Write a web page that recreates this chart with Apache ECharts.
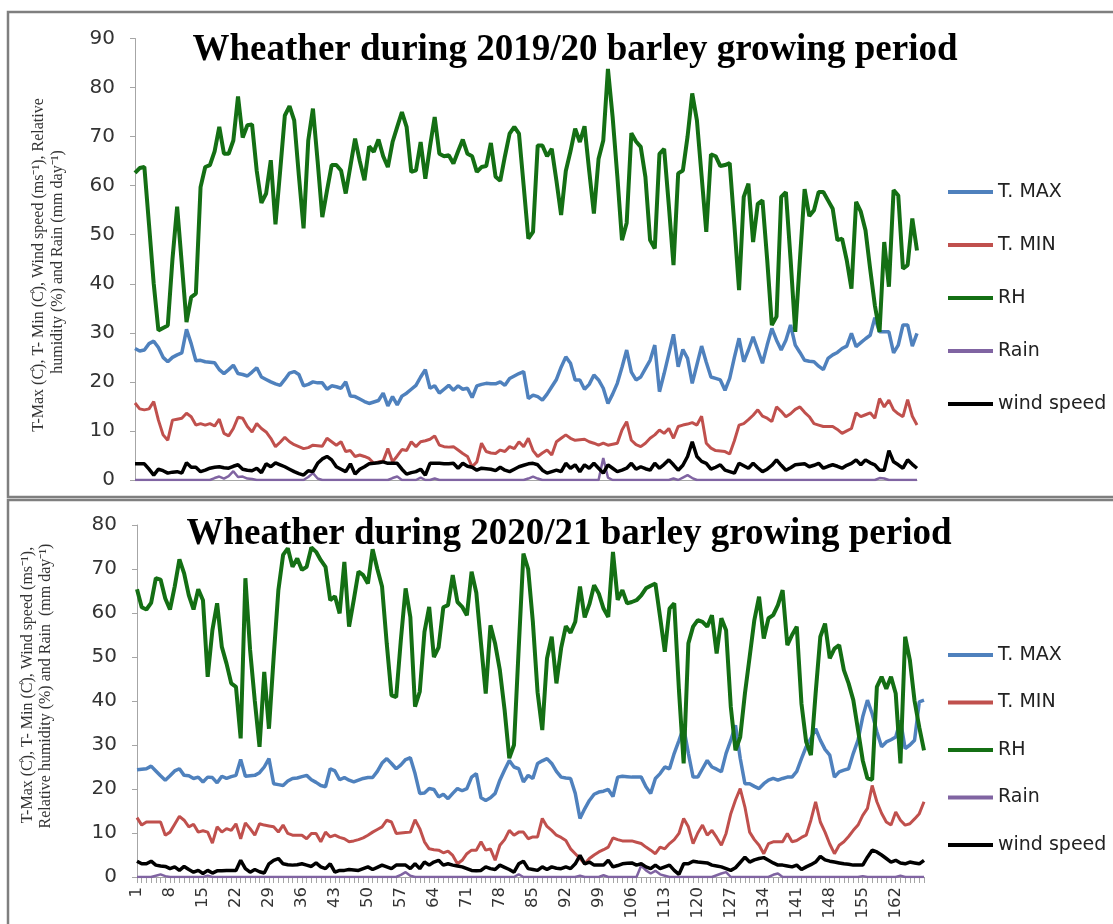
<!DOCTYPE html>
<html><head><meta charset="utf-8">
<script src="https://cdn.jsdelivr.net/npm/echarts@6/dist/echarts.min.js"></script>
<style>html,body{margin:0;padding:0;background:#fff}#c{width:1113px;height:924px}</style>
</head><body><div id="c"></div>
<script>
// ---- data ----
const days = [];
for (let i = 1; i <= 168; i++) days.push(String(i));
const seriesNames = ['T. MAX', 'T. MIN', 'RH', 'Rain', 'wind speed'];
const titleTop = 'Wheather during 2019/20 barley growing period';
const titleBottom = 'Wheather during 2020/21 barley growing period';
const yTicksTop = {min: 0, max: 90, step: 10};
const yTicksBottom = {min: 0, max: 80, step: 10};

// 2019/20
const tMax = [26.8,26.3,26.5,27.8,28.3,27,25,24.1,25,25.5,
25.9,30.7,27.8,24.3,24.4,24.1,24,23.9,22.5,21.7,
22.5,23.4,21.7,21.5,21.2,22,22.9,21,20.5,20,
19.6,19.3,20.5,21.8,22.1,21.5,19.2,19.5,20,19.8,
19.8,18.5,19.2,19,18.7,20,17.1,17,16.5,16,
15.6,15.9,16.2,17.7,15.1,17,15.3,17.1,17.7,18.5,
19.3,21,22.5,18.7,19.2,17.7,18.5,19.3,18.3,19.2,
18.5,18.7,16.8,19.2,19.5,19.7,19.6,19.6,20,19.3,
20.7,21.2,21.7,22.1,16.6,17.3,17,16.3,17.5,19,
20.5,23,25.1,23.8,20.4,20.4,18.5,19.5,21.4,20.4,
18.7,15.6,17.5,19.7,23,26.5,22,20.4,21,22.7,
24.4,27.5,18,21.7,25.7,29.7,23.1,26.6,24.8,19.7,
23.5,27.3,24,21,20.7,20.4,18.3,20.7,25,28.9,
24.1,26.5,29.2,26.5,23.8,27.5,30.9,28.5,26.5,28.5,
31.6,27.5,26,24.4,24.2,24.1,23.2,22.5,24.8,25.5,
26,26.8,27.3,29.9,27.2,28,28.8,29.5,33.1,30.2,
30.2,30.2,25.9,27.5,31.6,31.6,27.3,29.9];
const tMin = [15.7,14.5,14.3,14.5,16,12.2,9.2,8.1,12.2,12.4,
12.6,13.6,12.9,11.2,11.5,11.2,11.5,11,12.4,9.5,
9,10.5,12.8,12.6,10.9,9.8,11.5,10.5,9.8,8.5,
6.8,7.7,8.7,7.8,7.2,6.8,6.4,6.6,7.1,7,
6.9,8.5,7.8,7.1,7.8,5.8,6,4.8,5.1,4.8,
4.4,3.4,3.7,3.9,6.4,3.7,4.9,6.2,6,7.8,
6.8,7.8,8,8.3,9,7.1,6.8,6.7,6.8,6.1,
5.4,4.8,2.7,3.7,7.5,5.8,5.5,5.4,6.1,5.8,
6.8,6.4,7.8,6.8,8.5,6,4.8,5.5,6.1,5.1,
7.8,8.5,9.2,8.5,8.1,8.2,8.3,7.8,7.5,7.1,
7.5,7.1,7.3,7.5,10.2,11.9,8.1,7.2,6.8,7.5,
8.5,9.2,10.2,9.5,10.5,8.5,10.9,11.2,11.4,11.7,
11.2,13,7.5,6.5,6,5.9,5.8,5.3,8,11.2,
11.5,12.3,13.2,14.3,13,12.6,11.9,14.9,14,12.9,
13.5,14.4,14.9,13.8,12.9,11.5,11.2,10.9,10.9,10.9,
10.3,9.5,10,10.5,13.7,12.9,13.3,13.7,12.6,16.6,
14.9,16.3,14.3,13.5,12.9,16.4,13,11.2];
const tRH = [62.6,63.6,63.8,52,40,30.5,31,31.5,45,55.7,
44,32.2,37.3,38,59.7,63.8,64.2,67,72,66.5,
66.5,69.2,78.2,69.8,72.3,72.5,63,56.5,58.4,65.2,
52.1,63,74.3,76.2,73.3,62,51.3,69.2,75.7,65,
53.6,59,64.2,64.2,63.1,58.4,64,69.6,65,61.1,
68,66.9,69.4,66,63.8,68.9,72,75,72,62.8,
63.1,68.9,61.4,68,74,66.5,66,66.2,64.5,67,
69.4,66.5,66,62.8,63.8,64,68.7,61.8,61,66,
70.6,72,70.6,60,49.2,50.6,68.2,68.2,66,67.5,
61,54,63,67,71.6,68.9,72.1,63,54.3,65.5,
69.2,83.8,74,62,48.9,52.4,70.7,69,67.9,61.8,
48.9,47.2,66.5,67.5,56,43.8,62.5,63.1,70,78.8,
73.3,62,50.6,66.4,66,64,64.2,64.6,52,38.7,
57.7,60.4,48.5,56.3,57,45,31.6,33.3,57.7,58.7,
45,30.2,45,59.3,53.8,55,58.7,58.7,57,55.3,
48.9,49.2,44.8,39,56.7,54.7,50.9,43,35.6,30.2,
48.5,39.4,59.1,58,43.1,43.8,53.3,46.8];
const tRain = [0,0,0,0,0,0,0,0,0,0,
0,0,0,0,0,0,0,0.4,0.7,0.3,
0.8,1.8,0.6,0.7,0.3,0.2,0,0,0,0,
0,0,0,0,0,0,0,0.6,1.4,0.3,
0,0,0,0,0,0,0,0,0,0,
0,0,0,0,0,0.4,0.7,0,0,0,
0,0.5,0,0,0.3,0,0,0,0,0,
0,0,0,0,0,0,0,0,0,0,
0,0,0,0,0.3,0.7,0.3,0,0,0,
0,0,0,0,0,0,0,0,0,0,
4.5,0.5,0,0,0,0,0,0,0,0,
0,0,0,0,0,0.3,0,0.5,1,0.4,
0,0,0,0,0,0,0,0,0,0,
0,0,0,0,0,0,0,0,0,0,
0,0,0,0,0,0,0,0,0,0,
0,0,0,0,0,0,0,0,0,0.4,
0.3,0,0,0,0,0,0,0];
const tWind = [3.3,3.3,3.3,2.2,1,2.2,1.9,1.4,1.6,1.7,
1.4,3.5,2.6,2.6,1.7,2,2.4,2.6,2.7,2.5,
2.4,2.8,3.1,2.2,2,1.9,2.4,1.5,3.3,2.7,
3.5,3.1,2.7,2.2,1.7,1.3,1,1.9,1.7,3.4,
4.3,4.8,4.1,2.7,2.2,1.7,3.3,1.2,2.2,2.7,
3.3,3.4,3.5,3.7,3.4,3.4,3.4,2.2,1.2,1.5,
1.7,2.2,1,3.4,3.4,3.4,3.3,3.3,3.4,2.4,
3.4,2.8,2.6,2,2.4,2.3,2.2,1.9,2.6,2,
1.7,2.2,2.7,3,3.3,3.4,3.1,2,1.4,1.7,
2,1.7,3.4,2.4,3.1,1.7,3.1,2.4,3.4,2.4,
1.4,3.1,2.4,1.7,2,2.4,3.4,2.2,2.7,2.3,
2,3.4,2.4,3.2,4.1,3.1,2,3,4.8,7.8,
4.8,3.8,3.4,2.2,2.6,3.1,2,1.7,1.4,3.4,
2.9,2.4,3.4,2.5,1.7,2.2,3,4.1,3,2,
2.5,3.1,3.2,3.3,2.7,3,3.4,2.4,2.8,3.1,
2.8,2.4,3,3.4,4.1,3.1,4.1,3.5,3.1,2,
2,6,3.7,3.1,2.4,4.1,3.2,2.4];

// 2020/21
const bMax = [24.4,24.5,24.6,25.2,24.1,23,22,23,24.1,24.6,
23.1,23,22.4,22.7,21.6,22.7,22.6,21.4,22.9,22.4,
22.8,23.1,26.7,22.9,23,23.1,23.7,25,26.9,21.2,
21,20.8,21.8,22.4,22.5,22.8,23.1,22.1,21.5,20.8,
20.5,24.6,24.1,22.1,22.6,22,21.6,22,22.4,22.6,
22.6,24,25.9,26.9,25.8,24.6,25.5,26.7,27.1,23.5,
19,19.1,20.1,19.9,18.2,18.8,17.8,19,20.1,19.6,
20.1,22.7,23.5,18,17.4,18,19,22,24.3,26.5,
25,24.6,21.6,23.1,22.4,25.8,26.4,26.9,25.8,24,
22.7,22.5,22.4,19,13.3,15.5,17.4,18.8,19.3,19.5,
19.9,18.3,22.7,22.9,22.8,22.7,22.7,22.7,20.5,19,
22.4,23.5,25,24.6,28.1,31,34,28.1,22.7,22.7,
24.6,26.5,25,24.5,23.9,28.1,31.1,34.5,27,21.2,
21.2,20.6,20.1,21.2,22,22.4,22,22.4,22.7,22.7,
24,26.9,29.6,31.5,33.7,31.1,29,27.7,22.7,23.9,
24.3,24.6,28.1,31.1,36.4,40.2,37.1,33,29.6,30.7,
31.2,31.8,35.6,29.2,30,31.1,39.8,40.2];
const bMin = [13.5,11.8,12.5,12.5,12.5,12.5,9.5,10.2,12,13.8,
12.9,11.4,12,10.2,10.5,10.2,7.7,11.4,10.2,11,
10.6,12.1,8.7,12.3,11,9.5,12.1,11.8,11.6,11.4,
10.2,11.8,9.9,9.5,9.5,9.5,8.7,9.9,9.9,8,
10.2,9.1,9.5,9,8.7,8,8.2,8.5,8.9,9.5,
10.2,10.8,11.4,12.9,12.5,9.9,10,10.1,10.2,13,
11,8,6.4,6.2,6.1,5.5,5.9,4.9,3,3.8,
5.3,6.1,6.1,8,6.1,6.4,3.8,7.2,8.5,10.6,
9.5,10.2,10.2,8.7,9.1,9.1,13.3,11.5,10.6,9.5,
9,8.3,6.4,5.3,4.2,3,4.2,5,5.7,6.2,
6.8,8.9,8.5,8.2,8.2,8.2,7.9,7.6,6.8,6.1,
5.3,6.8,6.4,7.6,8.5,9.9,13.3,11.4,7.6,10,
11.8,9.5,10.6,9,7.2,9.9,14.4,17.5,20.1,15.9,
10.2,8.5,7.2,5.3,7.6,8,8,8,9.9,8,
8.3,9,9.5,12.9,17.1,12.5,10.2,7.5,5.3,7.2,
8,9.2,10.6,11.8,14,15.6,20.8,17.1,14.5,12.5,
11.8,14.8,12.9,11.8,12.1,13.2,14.4,17.1];
const bRH = [65.4,61.3,60.8,62.3,67.9,67.6,63.3,60.8,66,72.2,
69,64,60.8,65.4,62.9,45.5,56.1,62.2,52.3,48.5,
44,43.2,31.5,67.9,51.6,40,29.6,46.6,33.7,50,
65.2,73.2,74.7,70.5,72.4,69.8,70.5,74.9,73.9,72,
70.5,62.9,63.8,59.9,71.6,56.9,63,69.4,68.6,66.7,
74.5,70,66,53,41.3,40.9,54,65.6,59.1,38.7,
42.1,55.7,61.4,50,52.2,61.3,61.8,68.6,62.5,61.4,
59.5,69.4,64.6,53,41.7,57.2,53,47,38,27,
30,52,73.5,70,58,42,33.4,49.7,54.6,44,
52,57,55.5,58,66,59,62,66.3,64.4,61,
59.1,73.9,63,65.2,62.2,62.5,62.9,64,65.6,66.2,
66.7,59.1,51.2,61,62.2,42.5,25.8,53.1,56.9,58.4,
58,56.9,59.5,50.8,58.8,56.1,38.7,28.8,31.8,41.7,
50,58.4,63.7,54.2,58.8,59.5,61.8,65.2,52.7,55,
56.9,39.4,30.7,27.7,41.7,54.6,57.6,49.7,51.9,52.7,
47,44,40.2,33.4,26.5,22.4,22.1,43.2,45.5,42.8,
45.5,41.7,25.8,54.6,49.3,40,34,28.8];
const bRain = [0,0,0,0,0.3,0.6,0.2,0,0,0,
0,0,0,0,0,0.3,0,0,0,0,
0,0,0,0,0,0,0,0,0,0,
0,0,0,0,0,0,0,0,0,0,
0,0,0,0,0,0,0,0,0,0,
0,0,0,0,0,0,0.5,1.1,0.3,0,
0,0,0,0,0,0,0,0,0,0,
0,0,0,0,0,0,0,0,0,0,
0,0.6,0,0,0,0,0,0,0,0,
0,0,0,0,0.3,0,0,0,0,0.4,
0,0,0,0,0,0,0,2.6,1.5,0.8,
1.4,0.6,0.3,0,0,0,0,0,0,0,
0,0,0,0.4,0.8,1.1,0,0,0,0,
0,0,0,0,0,0.5,0.8,0,0,0,
0,0,0,0,0,0,0,0,0,0,
0,0,0,0,0.2,0,0,0,0,0,
0,0,0.3,0,0,0,0,0];
const bWind = [3.6,3,3,3.6,2.7,2.5,2.4,1.9,2.3,1.5,
2.4,1.7,1.1,1.5,0.8,1.5,0.9,1.4,1.4,1.5,
1.5,1.5,3.8,1.9,1.1,1.7,1.2,0.9,3,3.8,
4.2,3,2.8,2.7,2.8,3,2.7,2.4,3.2,2.3,
1.9,3,1.1,1.5,1.5,1.7,1.6,1.5,1.9,2.3,
1.7,2.2,2.7,2.3,1.9,2.7,2.7,2.7,1.9,3,
1.9,3.4,2.7,3.4,3.8,2.7,3,2.7,2.5,2.3,
1.9,1.5,1.4,1.5,2.3,1.9,1.7,2.7,2.2,1.7,
1.1,3,3.6,1.9,1.7,1.5,2.3,1.7,2.3,2,
1.9,2.3,1.9,3,4.9,3,3.4,2.7,2.7,2.7,
3.8,2.3,2.6,3,3.1,3.2,2.7,3,2.3,1.9,
2.7,1.9,2.3,2.7,1.5,0.6,3,3,3.6,3.4,
3.3,3.2,2.7,2.5,2.3,1.9,1.5,2.1,3.3,4.5,
3.4,3.9,4.2,4.4,3.8,3.2,2.7,2.7,2.5,2.3,
2.7,1.7,2.3,2.8,3.4,4.7,3.9,3.6,3.4,3.2,
3,2.9,2.7,2.7,2.7,4.5,6.1,5.7,5,4.2,
3.4,3.8,3.2,3,3.4,3.2,3,3.8];

// ---- styles ----
const colors = {'T. MAX':'#4F81BD','T. MIN':'#C0504D','RH':'#146F14','Rain':'#8064A2','wind speed':'#000000'};
const widths = {'T. MAX':3.5,'T. MIN':3,'RH':4,'Rain':2.5,'wind speed':3.5};
const axisGray = '#a6a6a6';
const sans = 'DejaVu Sans';
const serif = 'Liberation Serif';

function mk(name, data, idx) {
  return {name, type:'line', data, xAxisIndex:idx, yAxisIndex:idx, symbol:'none', showSymbol:false,
    lineStyle:{color:colors[name], width:widths[name]}, itemStyle:{color:colors[name]},
    emphasis:{disabled:true}, animation:false, z:2};
}
function xAx(idx, showLabels) {
  return {type:'category', gridIndex:idx, data:days, boundaryGap:false,
    axisLine:{lineStyle:{color:axisGray, width:1}},
    axisTick:{show:showLabels, interval:0, length:6, lineStyle:{color:axisGray}},
    axisLabel:{show:showLabels, interval:6, rotate:90, fontFamily:sans, fontSize:16.5, color:'#333', margin:10},
    splitLine:{show:false}};
}
function yAx(idx, t) {
  return {type:'value', gridIndex:idx, min:t.min, max:t.max, interval:t.step,
    axisLine:{show:true, lineStyle:{color:axisGray, width:1}},
    axisTick:{show:true, length:5, lineStyle:{color:axisGray}},
    axisLabel:{fontFamily:sans, fontSize:20, color:'#333', margin:20},
    splitLine:{show:false}};
}
function legend(top, gap) {
  return {data:seriesNames, orient:'vertical', left:948, top, padding:0, icon:'rect',
    itemWidth:45, itemHeight:4, itemGap:gap,
    selectedMode:false, textStyle:{fontFamily:sans, fontSize:19, color:'#222', lineHeight:20}};
}
function vtext(x, y, text, size) {
  return {type:'text', x, y, rotation:Math.PI/2, z:10,
    style:{text, fill:'#333', font: size + 'px "' + serif + '"', textAlign:'center', textVerticalAlign:'middle'}};
}

const chart = echarts.init(document.getElementById('c'), null, {renderer:'canvas'});
chart.setOption({
  backgroundColor:'#fff',
  animation:false,
  grid:[{left:135, right:196, top:38.5, bottom:444}, {left:137, right:189, top:525, bottom:47}],
  xAxis:[xAx(0,false), xAx(1,true)],
  yAxis:[yAx(0,yTicksTop), yAx(1,yTicksBottom)],
  legend:[legend(182,33), legend(645,27.5)],
  series:[
    mk('T. MAX',tMax,0), mk('T. MIN',tMin,0), mk('RH',tRH,0), mk('Rain',tRain,0), mk('wind speed',tWind,0),
    mk('T. MAX',bMax,1), mk('T. MIN',bMin,1), mk('RH',bRH,1), mk('Rain',bRain,1), mk('wind speed',bWind,1)
  ],
  graphic:[
    {type:'rect', shape:{x:8, y:12, width:1115, height:485}, style:{fill:'none', stroke:'#7f7f7f', lineWidth:2.5}, z:0},
    {type:'rect', shape:{x:8, y:500, width:1115, height:440}, style:{fill:'none', stroke:'#7f7f7f', lineWidth:2.5}, z:0},
    {type:'text', x:575, y:50, z:10, style:{text:titleTop, fill:'#000', font:'bold 37px "Liberation Serif"', textAlign:'center', textVerticalAlign:'middle'}},
    {type:'text', x:569, y:534, z:10, style:{text:titleBottom, fill:'#000', font:'bold 37px "Liberation Serif"', textAlign:'center', textVerticalAlign:'middle'}},
    vtext(39, 265, 'T-Max (C\u030A), T- Min (C\u030A), Wind speed (ms\u207B\u00B9), Relative', 16),
    vtext(58, 262, 'humidity (%) and Rain (mm day\u207B\u00B9)', 16),
    vtext(28, 685, 'T-Max (C\u030A), T- Min (C\u030A), Wind speed (ms\u207B\u00B9),', 16),
    vtext(46, 686, 'Relative humidity (%) and Rain  (mm day\u207B\u00B9)', 16)
  ]
});
</script>
</body></html>
